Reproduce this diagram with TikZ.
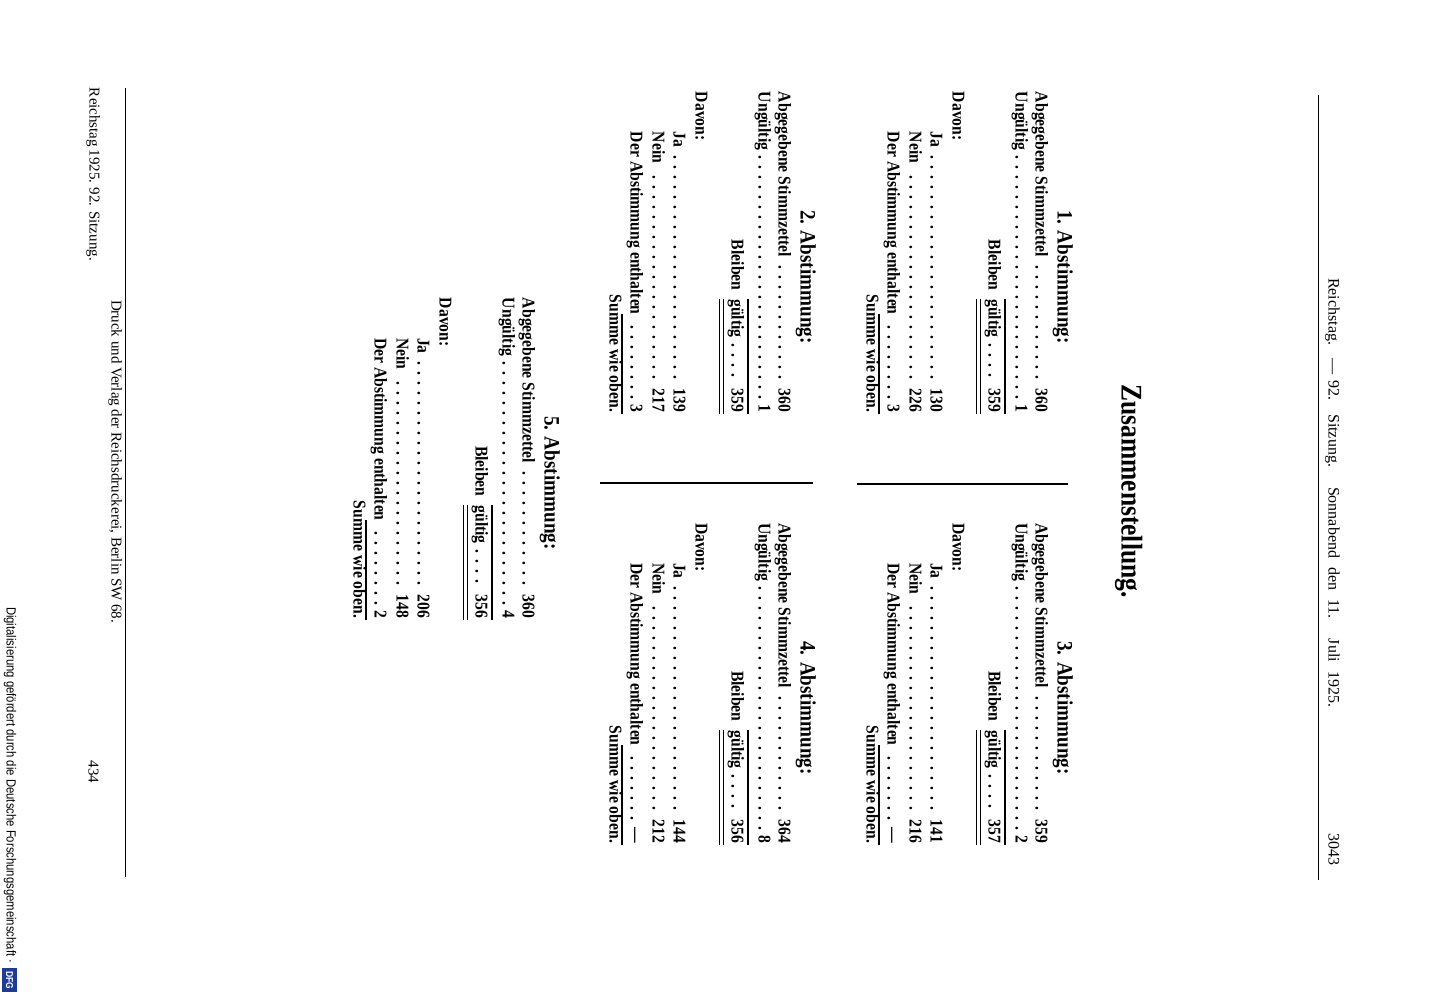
\documentclass[tikz,border=0pt]{standalone}
\usepackage{fontspec}
\setmainfont{Liberation Serif}
\newfontfamily\frak{Liberation Serif}[FakeStretch=0.87]
\newfontfamily\tfrak{Liberation Serif}[FakeStretch=0.85]
\newfontfamily\dfgfont{Liberation Sans}[FakeStretch=0.85]
\newcommand\dl{\leaders\hbox to 10pt{\hss.\hss}\hfill}
% one voting block: #1 heading x, #2 start y, #3 number, #4 abgegeben, #5 ungueltig,
% #6 gueltig, #7 ja, #8 nein, #9 enthalten
\newcommand\vblock[9]{%
  \def\Xh{#1}\def\Yo{#2}%
  \node[head,anchor=mid] (hd#3) at ({\Xh},{-(\Yo+185)}) {#3. Abstimmung:};
  \node[body,anchor=mid west] (ab#3) at ({\Xh-22},{-\Yo}) {\makebox[320pt][l]{Abgegebene Stimmzettel\dl #4}};
  \node[body,anchor=mid west] (un#3) at ({\Xh-42},{-\Yo}) {\makebox[320pt][l]{Ungültig\dl #5}};
  \draw[srule] ({\Xh-55},{-(\Yo+207)}) -- ({\Xh-55},{-(\Yo+322)});
  \node[body,anchor=mid west] (bg#3) at ({\Xh-69},{-(\Yo+148)}) {\makebox[172pt][l]{Bleiben\enspace gültig\dl #6}};
  \draw[drule] ({\Xh-79.5},{-(\Yo+207)}) -- ({\Xh-79.5},{-(\Yo+322)});
  \draw[drule] ({\Xh-83.5},{-(\Yo+207)}) -- ({\Xh-83.5},{-(\Yo+322)});
  \node[body,anchor=mid west] (da#3) at ({\Xh-105},{-\Yo}) {Davon:};
  \node[body,anchor=mid west] (ja#3) at ({\Xh-127},{-(\Yo+40)}) {\makebox[280pt][l]{Ja\dl #7}};
  \node[body,anchor=mid west] (ne#3) at ({\Xh-148},{-(\Yo+40)}) {\makebox[280pt][l]{Nein\dl #8}};
  \node[body,anchor=mid west] (en#3) at ({\Xh-170},{-(\Yo+40)}) {\makebox[280pt][l]{Der Abstimmung enthalten\dl #9}};
  \draw[srule] ({\Xh-181},{-(\Yo+222)}) -- ({\Xh-181},{-(\Yo+322)});
  \node[body,anchor=mid east] (su#3) at ({\Xh-191},{-(\Yo+320)}) {Summe wie oben.};
}
\begin{document}
\begin{tikzpicture}[x=1pt,y=1pt,
  rot/.style={rotate=-90,inner sep=0pt,outer sep=0pt},
  body/.style={rot,font={\frak\bfseries\fontsize{18}{20}\selectfont}},
  head/.style={rot,font={\frak\bfseries\fontsize{22}{24}\selectfont}},
  hdr/.style={rot,font={\fontsize{16}{18}\selectfont}},
  ftr/.style={rot,font={\fontsize{15}{17}\selectfont}},
  srule/.style={line width=1.5pt},
  drule/.style={line width=1.3pt},
  hair/.style={line width=0.8pt}]
\useasboundingbox (0,0) rectangle (1434,-1000);
\fill[white] (0,0) rectangle (1434,-1000);
% running head
\node[hdr,anchor=mid west] (rh1) at (1331,-278) {\makebox[189pt][s]{Reichstag. — 92. Sitzung.}};
\node[hdr,anchor=mid west] (rh2) at (1331,-487) {\makebox[220pt][s]{Sonnabend den 11. Juli 1925.}};
\node[hdr,anchor=mid] (pg) at (1331,-849) {3043};
\draw[hair] (1318,-95) -- (1318,-880);
% title
\node[rot,anchor=mid,font={\tfrak\bfseries\fontsize{30}{32}\selectfont}] (title) at (1124,-491) {Zusammenstellung.};
% blocks
\vblock{1060}{92}{1}{360}{1}{359}{130}{226}{3}
\vblock{803}{92}{2}{360}{1}{359}{139}{217}{3}
\vblock{1060}{523}{3}{359}{2}{357}{141}{216}{—}
\vblock{803}{523}{4}{364}{8}{356}{144}{212}{—}
\vblock{547}{298}{5}{360}{4}{356}{206}{148}{2}
% column dividers
\draw[line width=1.8pt] (857,-484) -- (1068,-484);
\draw[line width=1.8pt] (600,-483) -- (813,-483);
% foot
\draw[hair] (125,-88) -- (125,-877);
\node[ftr,anchor=mid west] (f1) at (114,-300) {\makebox[323pt][s]{Druck und Verlag der Reichsdruckerei, Berlin SW 68.}};
\node[ftr,anchor=mid west] (f2) at (92,-88) {\makebox[170pt][s]{Reichstag 1925. 92. Sitzung.}};
\node[ftr,anchor=mid] (f3) at (91,-772) {434};
\node[rot,anchor=mid west,font={\dfgfont\fontsize{13.3}{15}\selectfont}] (dfg) at (9,-607) {Digitalisierung gefördert durch die Deutsche Forschungsgemeinschaft ·};
\node[rot,anchor=center,fill={rgb,255:red,30;green,60;blue,150},text=white,inner sep=0pt,
  minimum width=24pt,minimum height=15pt,
  font={\dfgfont\bfseries\fontsize{10}{11}\selectfont}] (logo) at (9.5,-980) {DFG};
\end{tikzpicture}
\end{document}
